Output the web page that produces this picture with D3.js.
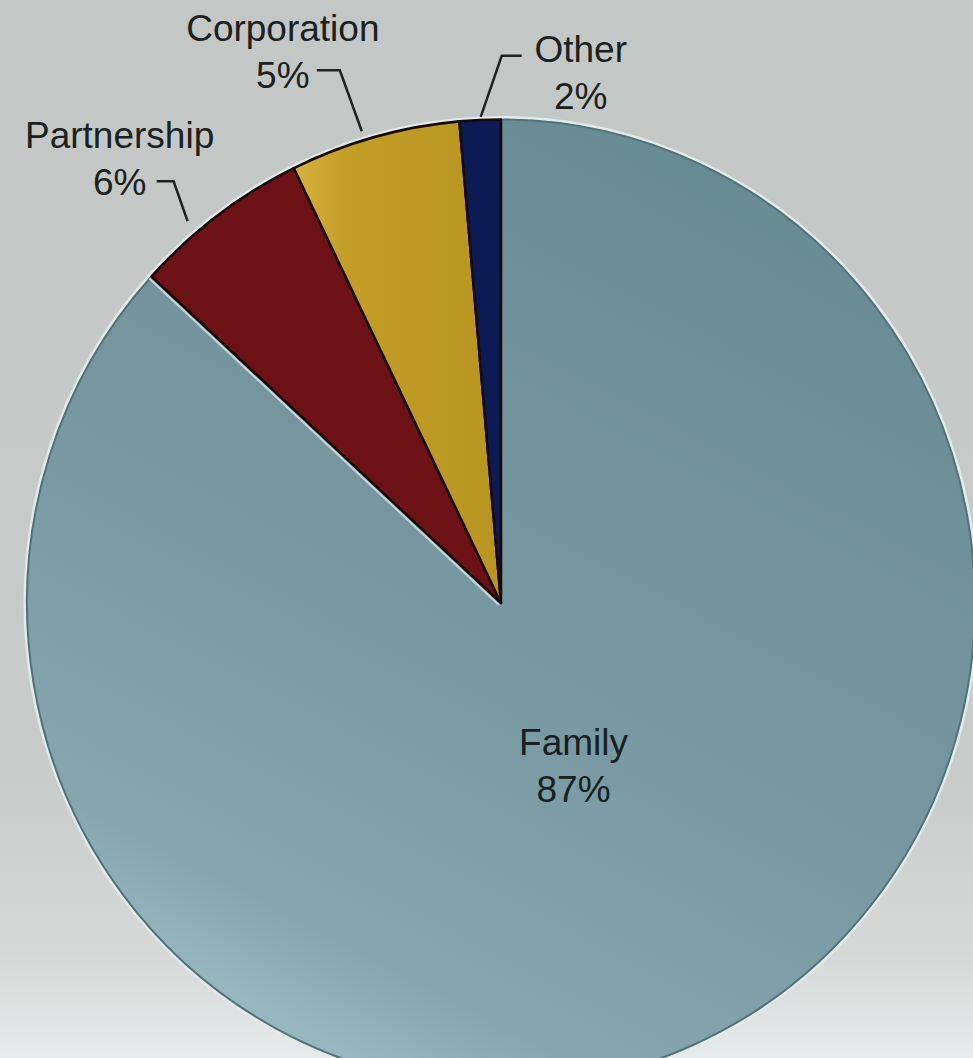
<!DOCTYPE html>
<html>
<head>
<meta charset="utf-8">
<script src="https://cdn.jsdelivr.net/npm/d3@7"></script>
<style>
  html, body { margin: 0; padding: 0; overflow: hidden; }
  svg { display: block; }
</style>
</head>
<body>
<div id="chart"></div>
<script>
// Ownership type shares (slice sizes, labels as printed)
const categories = ['Family', 'Partnership', 'Corporation', 'Other'];
const shares = [86.8, 6.0, 5.8, 1.4];
const pctLabels = ['87%', '6%', '5%', '2%'];
const colors = ['url(#familyFill)', '#6c1216', 'url(#corpFill)', '#0d1b54'];

const width = 973, height = 1058;
const cx = 501, cy = 603, R = 474;
const sy = 1.02; // the photographed pie is a little taller than wide

// label placement, relative to the point at the slice's mid angle (radius R + 10)
const labelLayout = {
  Partnership: { text: [-92, -59], leader: [[-24, 14], [-38, -26], [-55, -26]] },
  Corporation: { text: [-89, -86], leader: [[-10, 4], [-32, -57], [-55, -57]] },
  Other:       { text: [101, -48], leader: [[1, 7], [22, -54], [42, -54]] }
};

const svg = d3.select('#chart').append('svg')
  .attr('width', width)
  .attr('height', height);

const defs = svg.append('defs');

const bg = defs.append('linearGradient')
  .attr('id', 'bgFill')
  .attr('x1', 0).attr('y1', 0).attr('x2', 0).attr('y2', 1);
bg.append('stop').attr('offset', 0).attr('stop-color', '#c3c7c5');
bg.append('stop').attr('offset', 0.72).attr('stop-color', '#c8cbca');
bg.append('stop').attr('offset', 0.9).attr('stop-color', '#d5d8d7');
bg.append('stop').attr('offset', 1).attr('stop-color', '#e7eaea');

// Family: darker towards the upper right, lighter towards the bottom
const fam = defs.append('linearGradient')
  .attr('id', 'familyFill')
  .attr('gradientUnits', 'userSpaceOnUse')
  .attr('x1', 360).attr('y1', -380).attr('x2', -80).attr('y2', 480);
fam.append('stop').attr('offset', 0).attr('stop-color', '#678b93');
fam.append('stop').attr('offset', 0.55).attr('stop-color', '#7898a1');
fam.append('stop').attr('offset', 0.9).attr('stop-color', '#86a6af');
fam.append('stop').attr('offset', 1).attr('stop-color', '#97b7c0');

const corp = defs.append('linearGradient')
  .attr('id', 'corpFill')
  .attr('x1', 0).attr('y1', 0).attr('x2', 1).attr('y2', 0);
corp.append('stop').attr('offset', 0).attr('stop-color', '#d8b23e');
corp.append('stop').attr('offset', 0.25).attr('stop-color', '#c29d27');
corp.append('stop').attr('offset', 1).attr('stop-color', '#b89522');

svg.append('rect')
  .attr('width', width)
  .attr('height', height)
  .attr('fill', 'url(#bgFill)');

const data = categories.map((c, i) => ({ name: c, value: shares[i], label: pctLabels[i], color: colors[i] }));

const pie = d3.pie()
  .sort(null)
  .value(d => d.value);

const arcs = pie(data);

const arc = d3.arc()
  .innerRadius(0)
  .outerRadius(R);

const outerArc = d3.arc()
  .innerRadius(R + 10)
  .outerRadius(R + 10);

const g = svg.append('g')
  .attr('transform', `translate(${cx},${cy})`);

const pieG = g.append('g')
  .attr('transform', `scale(1,${sy})`);

// light halo round the pie
pieG.append('circle')
  .attr('r', R + 2)
  .attr('fill', 'none')
  .attr('stroke', '#e2eaea')
  .attr('stroke-width', 3);

pieG.selectAll('path.slice')
  .data(arcs)
  .join('path')
  .attr('class', 'slice')
  .attr('d', arc)
  .attr('fill', d => d.data.color)
  .attr('stroke', d => d.data.name === 'Family' ? '#52727a' : '#170807')
  .attr('stroke-width', d => d.data.name === 'Family' ? 2 : 2.5)
  .attr('stroke-linejoin', 'round');

// light edge where Family meets Partnership
const famEnd = arcs[0].endAngle;
pieG.append('line')
  .attr('x1', 0).attr('y1', 0)
  .attr('x2', R * Math.sin(famEnd))
  .attr('y2', -R * Math.cos(famEnd))
  .attr('stroke', '#c9d6db')
  .attr('stroke-width', 2)
  .attr('transform', 'translate(-2,2)');

const font = '"Liberation Sans", Arial, sans-serif';

// Family label inside the slice
const famMid = (arcs[0].startAngle + arcs[0].endAngle) / 2;
const famR = 180;
const fx = famR * Math.sin(famMid);
const famLabel = g.append('text')
  .attr('x', fx)
  .attr('y', -famR * Math.cos(famMid) * sy - 16)
  .attr('text-anchor', 'middle')
  .style('font-family', font)
  .style('font-size', '37px')
  .attr('fill', '#172022');
famLabel.append('tspan').attr('x', fx).text(arcs[0].data.name);
famLabel.append('tspan').attr('x', fx).attr('dy', 47).text(arcs[0].data.label);

// outside labels with leader lines
arcs.filter(d => labelLayout[d.data.name]).forEach(d => {
  const lay = labelLayout[d.data.name];
  const [ox, oy] = outerArc.centroid(d);
  const ax = ox, ay = oy * sy;
  const pts = lay.leader.map(([dx, dy]) => [ax + dx, ay + dy]);

  g.append('path')
    .attr('d', d3.line()(pts))
    .attr('fill', 'none')
    .attr('stroke', '#1d2322')
    .attr('stroke-width', 2.5);

  const tx = ax + lay.text[0];
  const ty = ay + lay.text[1];
  const t = g.append('text')
    .attr('x', tx)
    .attr('y', ty)
    .attr('text-anchor', 'middle')
    .style('font-family', font)
    .style('font-size', '37px')
    .attr('fill', '#1b2120');
  t.append('tspan').attr('x', tx).text(d.data.name);
  t.append('tspan').attr('x', tx).attr('dy', 47).text(d.data.label);
});
</script>
</body>
</html>
